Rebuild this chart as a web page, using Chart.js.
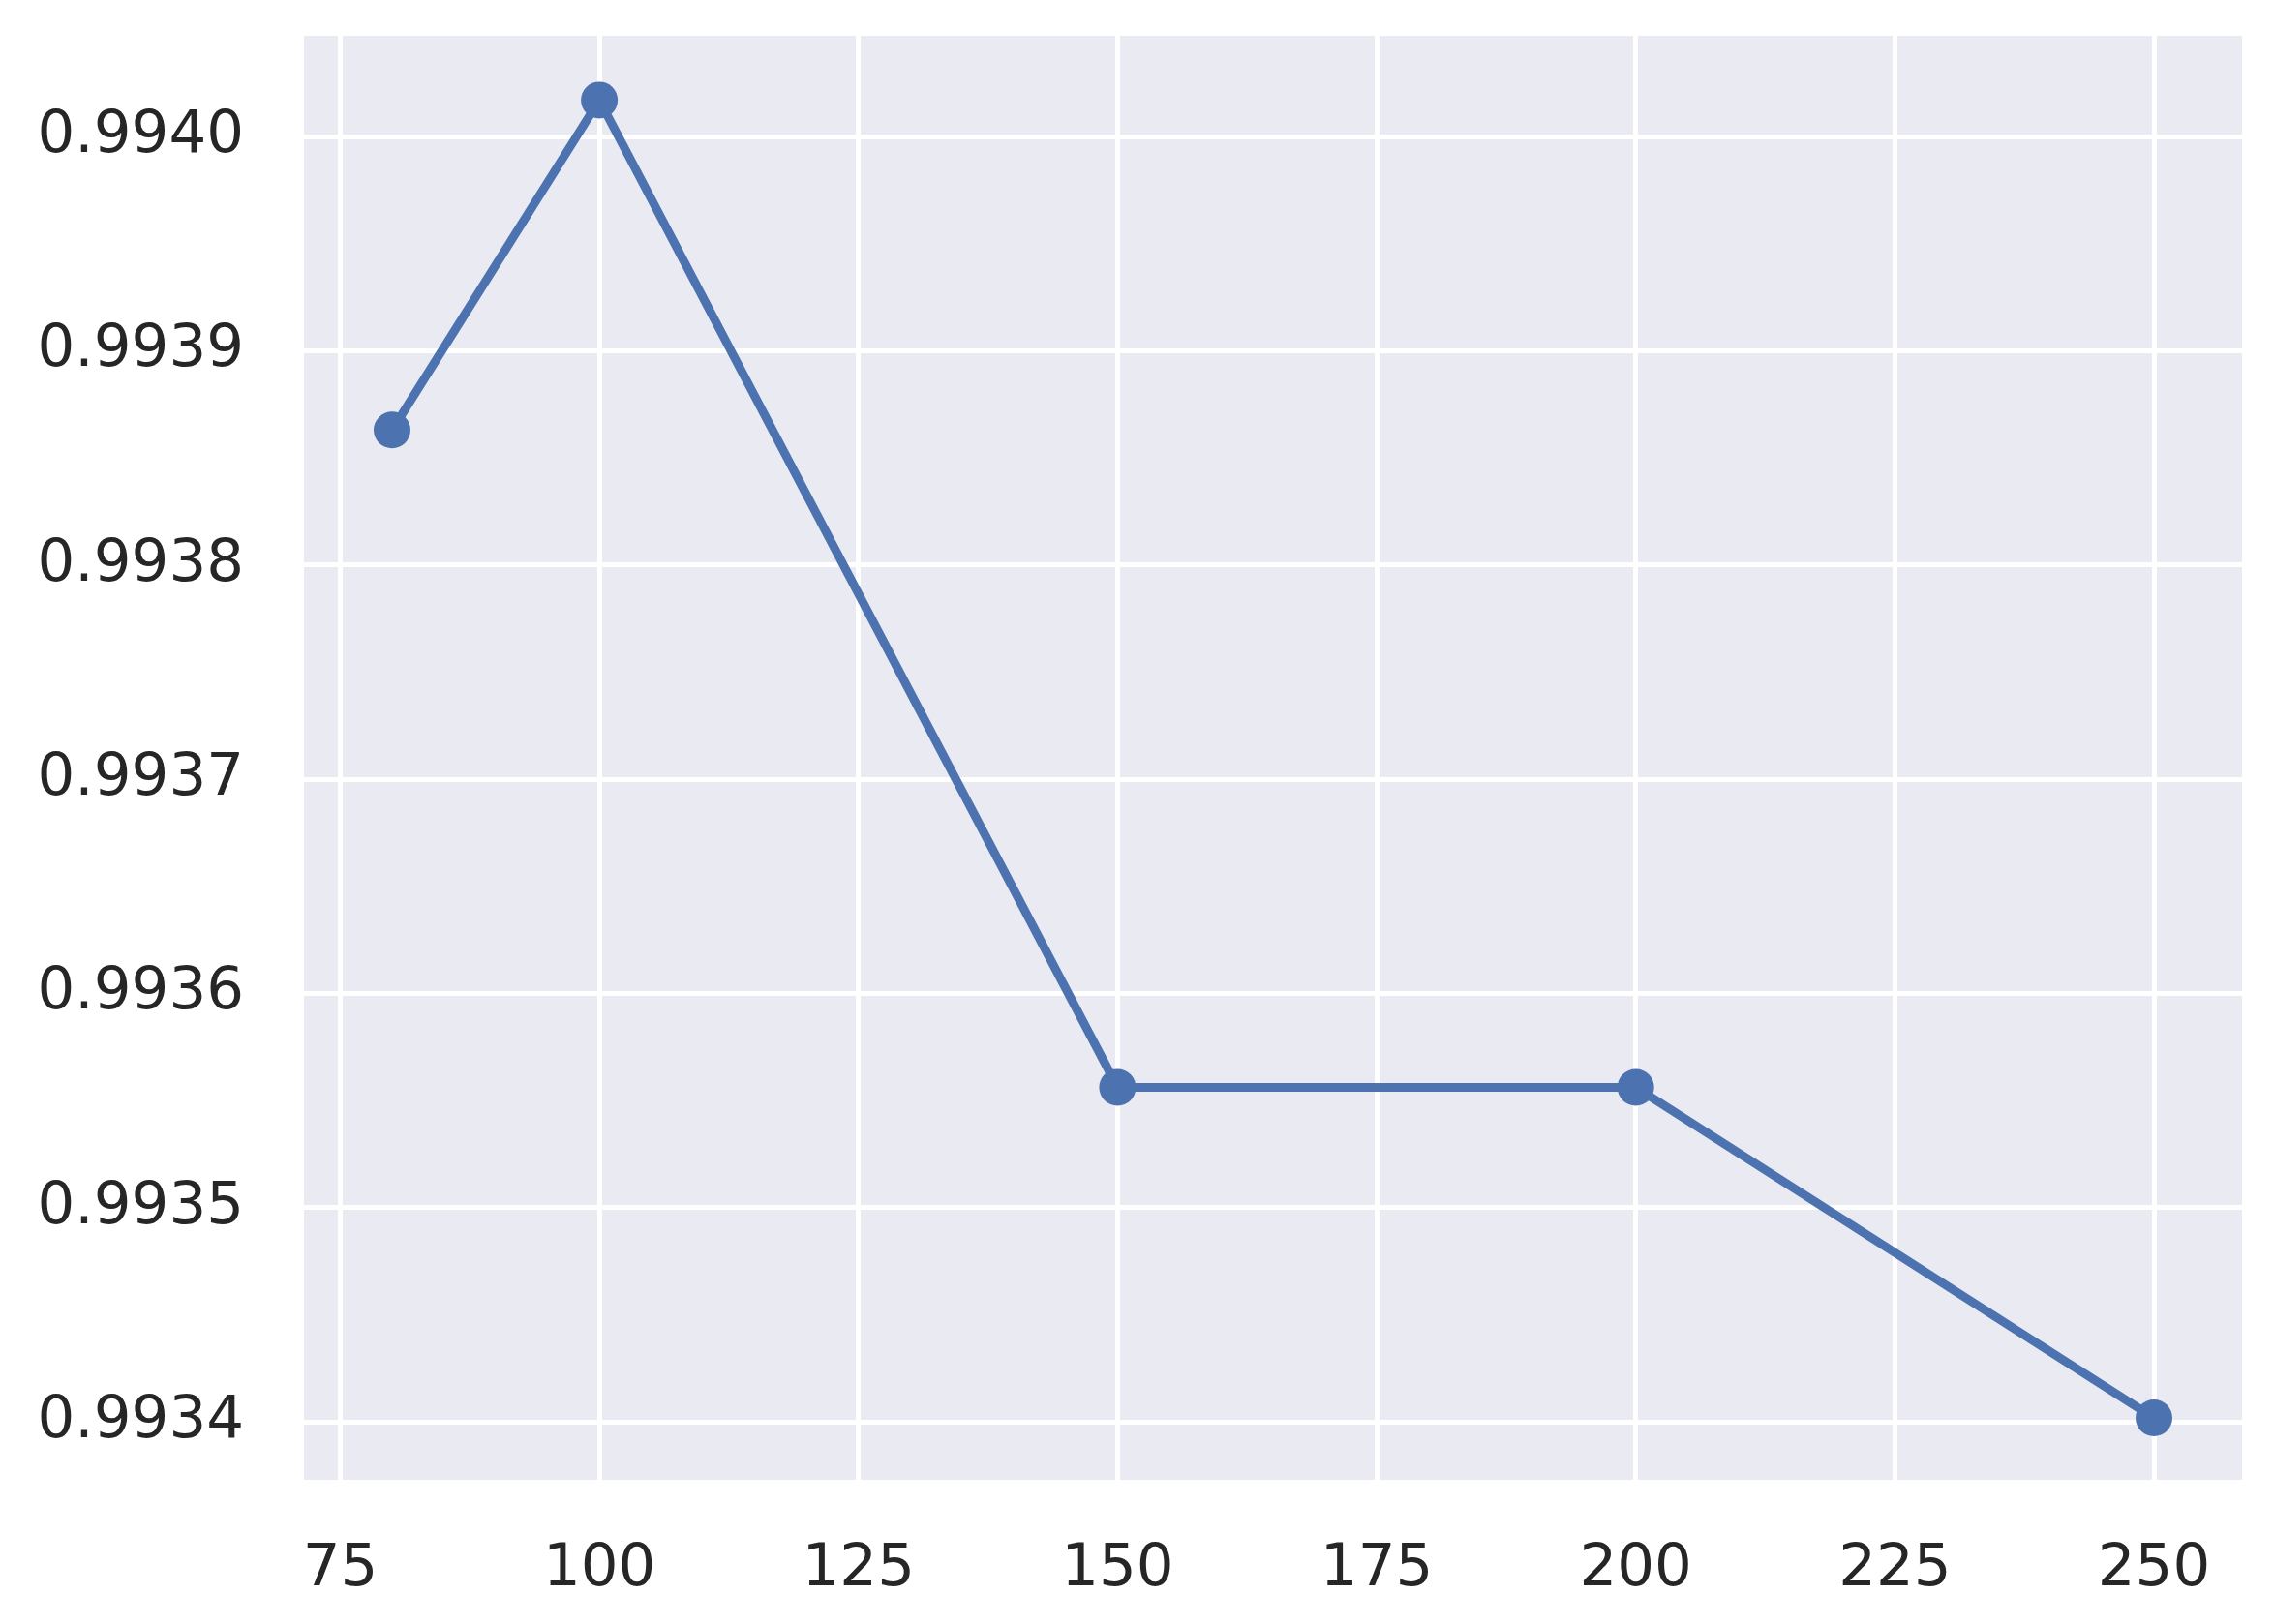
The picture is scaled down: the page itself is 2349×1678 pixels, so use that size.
<!DOCTYPE html>
<html>
<head>
<meta charset="utf-8">
<script src="https://cdn.jsdelivr.net/npm/chart.js@4"></script>
<style>
  body { margin: 0; background: #fff; }
  #wrap { width: 2349px; height: 1678px; }
</style>
</head>
<body>
<div id="wrap"><canvas id="line-chart"></canvas></div>
<script>
// data
var xValues = [80, 100, 150, 200, 250];
var yValues = [0.993863, 0.994017, 0.9935562, 0.9935562, 0.9934019];
var xTicks = [75, 100, 125, 150, 175, 200, 225, 250];
var yTicks = [0.9934, 0.9935, 0.9936, 0.9937, 0.9938, 0.9939, 0.9940];

Chart.defaults.font.family = '"DejaVu Sans", sans-serif';
Chart.defaults.font.size = 61;
Chart.defaults.color = '#262626';

// seaborn darkgrid background behind the plot area
var bgPlugin = {
    id: 'plotBg',
    beforeDraw: function(chart) {
        var a = chart.chartArea;
        var ctx = chart.ctx;
        ctx.save();
        ctx.fillStyle = '#EAEAF2';
        ctx.fillRect(a.left, a.top, a.right - a.left, a.bottom - a.top);
        ctx.restore();
    }
};

var chart = new Chart(document.getElementById("line-chart"), {
    type: 'scatter',
    data: {
        datasets: [{
            data: xValues.map(function(x, i) { return {x: x, y: yValues[i]}; }),
            showLine: true,
            borderColor: '#4C72B0',
            backgroundColor: '#4C72B0',
            borderWidth: 9,
            pointRadius: 19,
            pointHoverRadius: 19,
            pointBorderWidth: 0,
            clip: false
        }]
    },
    options: {
        responsive: true,
        maintainAspectRatio: false,
        animation: false,
        layout: {padding: {top: 37, right: 33, left: 0, bottom: 0}},
        plugins: {legend: {display: false}, tooltip: {enabled: false}},
        scales: {
            x: {
                type: 'linear', min: 71.5, max: 258.5,
                afterBuildTicks: function(s) { s.ticks = xTicks.map(function(v) { return {value: v}; }); },
                afterFit: function(s) { s.height = 149; s.paddingLeft = 0; s.paddingRight = 0; },
                grid: {color: '#ffffff', lineWidth: 5, drawTicks: false},
                border: {display: false},
                ticks: {padding: 57, maxRotation: 0, autoSkip: false,
                        callback: function(v) { return String(v); }}
            },
            y: {
                type: 'linear', min: 0.993373, max: 0.994047,
                afterBuildTicks: function(s) { s.ticks = yTicks.map(function(v) { return {value: v}; }); },
                afterFit: function(s) { s.width = 314; s.paddingTop = 0; s.paddingBottom = 0; },
                grid: {color: '#ffffff', lineWidth: 5, drawTicks: false},
                border: {display: false},
                ticks: {padding: 62, autoSkip: false,
                        callback: function(v) { return v.toFixed(4); }}
            }
        }
    },
    plugins: [bgPlugin]
});
</script>
</body>
</html>
